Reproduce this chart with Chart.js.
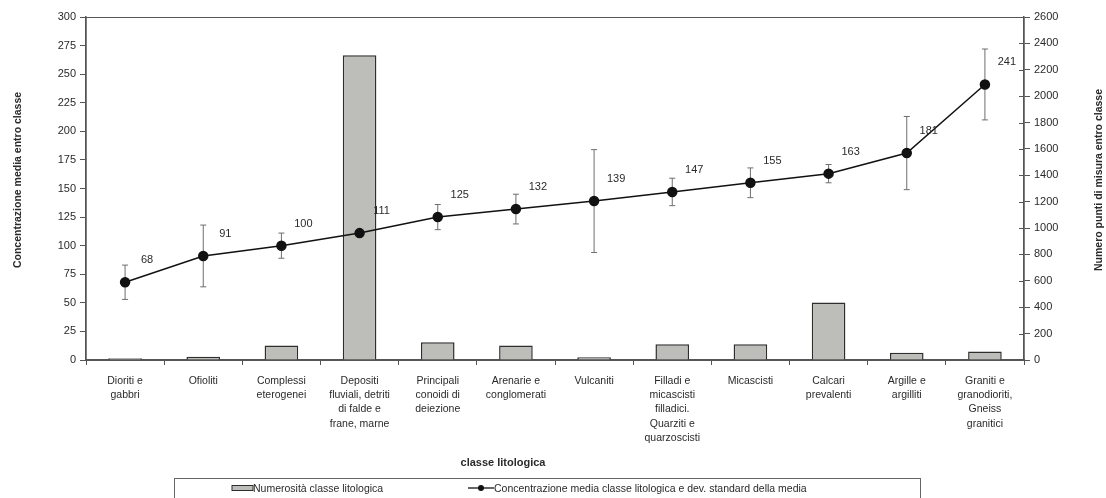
<!DOCTYPE html>
<html>
<head>
<meta charset="utf-8">
<script src="https://cdn.jsdelivr.net/npm/chart.js@4"></script>
<style>
  body { margin: 0; background: #fff; }
  #wrap { width: 1106px; height: 498px; }
</style>
</head>
<body>
<div id="wrap"><canvas id="litoChart"></canvas></div>
<script>
// Classi litologiche (etichette su più righe)
const categorie = [
  ["Dioriti e", "gabbri"],
  ["Ofioliti"],
  ["Complessi", "eterogenei"],
  ["Depositi", "fluviali, detriti", "di falde e", "frane, marne"],
  ["Principali", "conoidi di", "deiezione"],
  ["Arenarie e", "conglomerati"],
  ["Vulcaniti"],
  ["Filladi e", "micascisti", "filladici.", "Quarziti e", "quarzoscisti"],
  ["Micascisti"],
  ["Calcari", "prevalenti"],
  ["Argille e", "argilliti"],
  ["Graniti e", "granodioriti,", "Gneiss", "granitici"],
];

// Numero punti di misura per classe (asse destro)
const numerosita = [14, 25, 110, 2310, 135, 110, 20, 120, 120, 435, 55, 65];
// Concentrazione media per classe (asse sinistro)
const concentrazione = [68, 91, 100, 111, 125, 132, 139, 147, 155, 163, 181, 241];
// Deviazione standard della media
const devStandard = [15, 27, 11, 3, 11, 13, 45, 12, 13, 8, 32, 31];

const assi = {
  sx: { min: 0, max: 300, step: 25 },
  dx: { min: 0, max: 2600, step: 200 },
};

const colori = {
  barra: "#bdbdb9",
  bordoBarra: "#2e2e2e",
  linea: "#111111",
  errore: "#6e6e6e",
  asse: "#555555",
  testo: "#2a2a2a",
};

const FONT = "'Liberation Sans', Arial, Helvetica, sans-serif";

// Barre d'errore, etichette dei valori, cornice, titoli e legenda
const decorazioni = {
  id: "decorazioni",
  beforeDatasetsDraw(chart) {
    const ctx = chart.ctx;
    const meta = chart.getDatasetMeta(1);
    const y = chart.scales.y;
    ctx.save();
    ctx.strokeStyle = colori.errore;
    ctx.lineWidth = 1;
    meta.data.forEach((pt, i) => {
      const top = y.getPixelForValue(concentrazione[i] + devStandard[i]);
      const bot = y.getPixelForValue(concentrazione[i] - devStandard[i]);
      ctx.beginPath();
      ctx.moveTo(pt.x, top);
      ctx.lineTo(pt.x, bot);
      ctx.moveTo(pt.x - 3, top);
      ctx.lineTo(pt.x + 3, top);
      ctx.moveTo(pt.x - 3, bot);
      ctx.lineTo(pt.x + 3, bot);
      ctx.stroke();
    });
    ctx.restore();
  },
  afterDraw(chart) {
    const ctx = chart.ctx;
    const area = chart.chartArea;
    const meta = chart.getDatasetMeta(1);
    const y1 = chart.scales.y1;
    ctx.save();

    // cornice dell'area del grafico
    ctx.strokeStyle = colori.asse;
    ctx.lineWidth = 1;
    ctx.strokeRect(area.left, area.top + 0.5, area.right - area.left, area.bottom - area.top);

    // tacche dell'asse destro anche verso l'interno
    ctx.beginPath();
    y1.ticks.forEach((t) => {
      const py = Math.round(y1.getPixelForValue(t.value)) + 0.5;
      ctx.moveTo(area.right - 5, py);
      ctx.lineTo(area.right, py);
    });
    ctx.stroke();

    // valori della linea
    ctx.fillStyle = colori.testo;
    ctx.font = "11px " + FONT;
    ctx.textAlign = "center";
    ctx.textBaseline = "middle";
    meta.data.forEach((pt, i) => {
      ctx.fillText(String(concentrazione[i]), pt.x + 22, pt.y - 22);
    });

    // titoli degli assi
    ctx.font = "bold 10.5px " + FONT;
    ctx.save();
    ctx.translate(18, 180);
    ctx.rotate(-Math.PI / 2);
    ctx.fillText("Concentrazione media entro classe", 0, 0);
    ctx.restore();
    ctx.save();
    ctx.translate(1099, 180);
    ctx.rotate(-Math.PI / 2);
    ctx.fillText("Numero punti di misura entro classe", 0, 0);
    ctx.restore();
    ctx.font = "bold 11px " + FONT;
    ctx.fillText("classe litologica", 503, 463);

    // legenda
    ctx.strokeStyle = "#666";
    ctx.lineWidth = 1;
    ctx.strokeRect(174.5, 478.5, 746, 30);
    ctx.fillStyle = colori.barra;
    ctx.strokeStyle = colori.bordoBarra;
    ctx.fillRect(232, 485.5, 21, 5);
    ctx.strokeRect(232, 485.5, 21, 5);
    ctx.strokeStyle = colori.linea;
    ctx.lineWidth = 1.3;
    ctx.beginPath();
    ctx.moveTo(468, 488);
    ctx.lineTo(494, 488);
    ctx.stroke();
    ctx.fillStyle = colori.linea;
    ctx.beginPath();
    ctx.arc(481, 488, 3, 0, Math.PI * 2);
    ctx.fill();
    ctx.fillStyle = colori.testo;
    ctx.font = "10.5px " + FONT;
    ctx.textAlign = "left";
    ctx.fillText("Numerosità classe litologica", 253, 489);
    ctx.fillText("Concentrazione media classe litologica e dev. standard della media", 494, 489);
    ctx.restore();
  },
};

new Chart(document.getElementById("litoChart").getContext("2d"), {
  data: {
    labels: categorie,
    datasets: [
      {
        type: "bar",
        label: "Numerosità classe litologica",
        data: numerosita,
        yAxisID: "y1",
        backgroundColor: colori.barra,
        borderColor: colori.bordoBarra,
        borderWidth: 1.5,
        barPercentage: 0.43,
        categoryPercentage: 1,
        order: 1,
      },
      {
        type: "line",
        label: "Concentrazione media classe litologica e dev. standard della media",
        data: concentrazione,
        yAxisID: "y",
        borderColor: colori.linea,
        borderWidth: 1.5,
        pointRadius: 4.5,
        pointBackgroundColor: colori.linea,
        pointBorderColor: colori.linea,
        tension: 0,
        order: 0,
      },
    ],
  },
  options: {
    responsive: true,
    maintainAspectRatio: false,
    animation: false,
    layout: { padding: { top: 17, bottom: 0, left: 0, right: 0 } },
    plugins: {
      legend: { display: false },
      tooltip: { enabled: false },
    },
    scales: {
      x: {
        offset: true,
        grid: { display: true, drawOnChartArea: false, offset: true, tickLength: 5, color: colori.asse },
        border: { color: colori.asse, width: 1.5 },
        ticks: {
          color: colori.testo,
          font: { family: FONT, size: 10.5, lineHeight: 1.35 },
          padding: 9,
          maxRotation: 0,
          autoSkip: false,
        },
        afterFit: (s) => { s.height = 138; },
      },
      y: {
        position: "left",
        min: assi.sx.min,
        max: assi.sx.max,
        grid: { display: true, drawOnChartArea: false, tickLength: 6, color: colori.asse },
        border: { color: colori.asse, width: 1.5 },
        ticks: {
          stepSize: assi.sx.step,
          color: colori.testo,
          font: { family: FONT, size: 11 },
          padding: 4,
        },
        afterFit: (s) => { s.width = 86; },
      },
      y1: {
        position: "right",
        min: assi.dx.min,
        max: assi.dx.max,
        grid: { display: true, drawOnChartArea: false, tickLength: 6, color: colori.asse },
        border: { color: colori.asse, width: 1.5 },
        ticks: {
          stepSize: assi.dx.step,
          color: colori.testo,
          font: { family: FONT, size: 11 },
          padding: 4,
          callback: (v) => String(v),
        },
        afterFit: (s) => { s.width = 82; },
      },
    },
  },
  plugins: [decorazioni],
});
</script>
</body>
</html>
